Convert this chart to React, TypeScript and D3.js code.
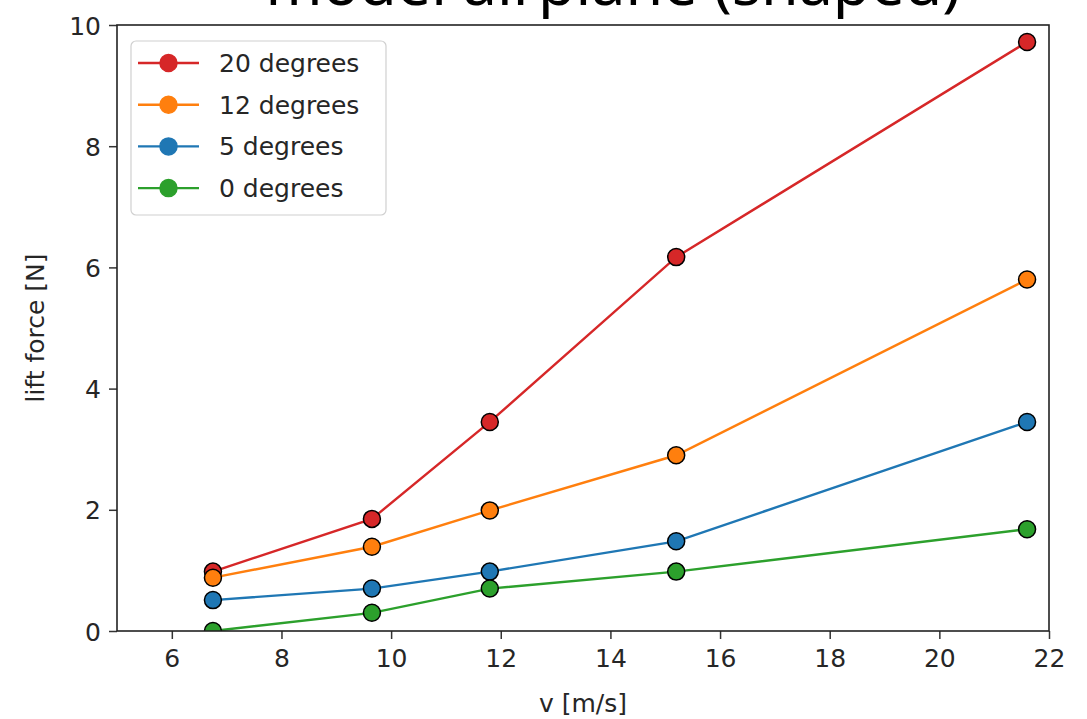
import React, { useEffect, useRef } from 'react';
import * as d3 from 'd3';

const speeds = [6.75, 9.65, 11.8, 15.2, 21.6];
const seriesNames = ['20 degrees', '12 degrees', '5 degrees', '0 degrees'];
const seriesColors = ['#d62728', '#ff7f0e', '#1f77b4', '#2ca02c'];
const lift20 = [0.98, 1.85, 3.45, 6.17, 9.72];
const lift12 = [0.88, 1.39, 1.99, 2.9, 5.8];
const lift5 = [0.51, 0.7, 0.98, 1.48, 3.45];
const lift0 = [0.0, 0.3, 0.7, 0.98, 1.68];
const xTicks = [6, 8, 10, 12, 14, 16, 18, 20, 22];
const yTicks = [0, 2, 4, 6, 8, 10];

const W = 1087;
const H = 719;

const App = () => {
    const svgRef = useRef<SVGSVGElement>(null);

    useEffect(() => {
        const svg = d3.select(svgRef.current);
        svg.selectAll('*').remove();

        const left = 117, right = 1049, top = 25, bottom = 631;
        const font = 'DejaVu Sans, sans-serif';
        const textColor = '#262626';

        const x = d3.scaleLinear().domain([5, 22]).range([left, right]);
        const y = d3.scaleLinear().domain([0, 10]).range([bottom, top]);

        const allSeries = [lift20, lift12, lift5, lift0].map((vals, i) => ({
            name: seriesNames[i],
            color: seriesColors[i],
            points: vals.map((v, j) => ({ x: speeds[j], y: v }))
        }));

        // Title, mostly cut off at the top of the picture (as in the reference)
        svg.append('text')
            .attr('x', 613)
            .attr('y', 5)
            .attr('text-anchor', 'middle')
            .attr('font-family', 'Noto Sans, sans-serif')
            .attr('font-size', 61)
            .attr('fill', '#000')
            .text('model airplane (shaped)');

        // Clip region for the data
        svg.append('defs').append('clipPath')
            .attr('id', 'plot-clip')
            .append('rect')
            .attr('x', left)
            .attr('y', top)
            .attr('width', right - left)
            .attr('height', bottom - top);

        const plot = svg.append('g').attr('clip-path', 'url(#plot-clip)');
        const line = d3.line<{ x: number; y: number }>()
            .x(d => x(d.x))
            .y(d => y(d.y));

        allSeries.forEach(s => {
            plot.append('path')
                .datum(s.points)
                .attr('d', line)
                .attr('fill', 'none')
                .attr('stroke', s.color)
                .attr('stroke-width', 2.4);
            plot.selectAll(null)
                .data(s.points)
                .enter()
                .append('circle')
                .attr('cx', d => x(d.x))
                .attr('cy', d => y(d.y))
                .attr('r', 8.5)
                .attr('fill', s.color)
                .attr('stroke', '#000')
                .attr('stroke-width', 1.5);
        });

        // Axes with outward ticks
        const xAxis = svg.append('g')
            .attr('transform', `translate(0,${bottom})`)
            .call(d3.axisBottom(x).tickValues(xTicks).tickSize(8).tickPadding(10).tickSizeOuter(0));
        const yAxis = svg.append('g')
            .attr('transform', `translate(${left},0)`)
            .call(d3.axisLeft(y).tickValues(yTicks).tickSize(8).tickPadding(8).tickSizeOuter(0));

        [xAxis, yAxis].forEach(ax => {
            ax.select('.domain').remove();
            ax.selectAll('line').attr('stroke', '#333').attr('stroke-width', 1.5);
            ax.selectAll('text')
                .attr('font-family', font)
                .attr('font-size', 25)
                .attr('fill', textColor);
        });
        yAxis.selectAll('text').attr('dy', '0.36em');

        // Spines
        svg.append('rect')
            .attr('x', left)
            .attr('y', top)
            .attr('width', right - left)
            .attr('height', bottom - top)
            .attr('fill', 'none')
            .attr('stroke', '#222')
            .attr('stroke-width', 1.6);

        // Axis labels
        svg.append('text')
            .attr('x', (left + right) / 2)
            .attr('y', 712)
            .attr('text-anchor', 'middle')
            .attr('font-family', font)
            .attr('font-size', 25)
            .attr('fill', textColor)
            .text('v [m/s]');

        svg.append('text')
            .attr('transform', `translate(44,${(top + bottom) / 2}) rotate(-90)`)
            .attr('text-anchor', 'middle')
            .attr('font-family', font)
            .attr('font-size', 25)
            .attr('fill', textColor)
            .text('lift force [N]');

        // Legend
        const legend = svg.append('g');
        legend.append('rect')
            .attr('x', 131)
            .attr('y', 41)
            .attr('width', 255)
            .attr('height', 174)
            .attr('rx', 5)
            .attr('fill', 'rgba(255,255,255,0.8)')
            .attr('stroke', '#d0d0d0')
            .attr('stroke-width', 1.2);

        allSeries.forEach((s, i) => {
            const cy = 63 + i * 41.7;
            legend.append('line')
                .attr('x1', 138)
                .attr('x2', 199)
                .attr('y1', cy)
                .attr('y2', cy)
                .attr('stroke', s.color)
                .attr('stroke-width', 2.4);
            legend.append('circle')
                .attr('cx', 168.5)
                .attr('cy', cy)
                .attr('r', 8.5)
                .attr('fill', s.color)
                .attr('stroke', s.color)
                .attr('stroke-width', 1.5);
            legend.append('text')
                .attr('x', 219)
                .attr('y', cy)
                .attr('dy', '0.36em')
                .attr('font-family', font)
                .attr('font-size', 25)
                .attr('fill', textColor)
                .text(s.name);
        });
    }, []);

    return (
        <svg
            ref={svgRef}
            width={W}
            height={H}
            style={{ position: 'absolute', left: 0, top: 0, background: '#fff' }}
        />
    );
};

export default App;
